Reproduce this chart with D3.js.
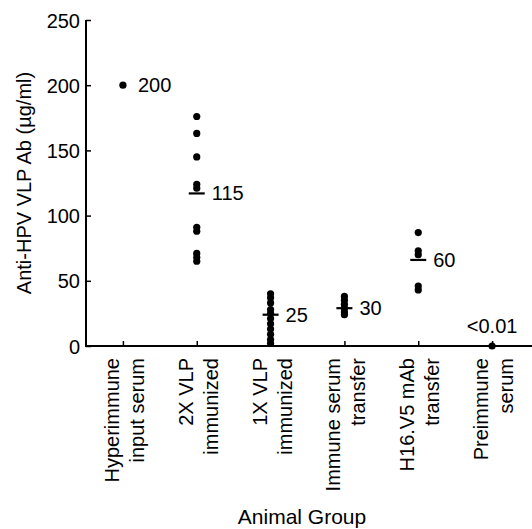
<!DOCTYPE html>
<html>
<head>
<meta charset="utf-8">
<script src="https://cdn.jsdelivr.net/npm/d3@7"></script>
<style>
body { margin: 0; background: #fff; }
text { font-family: "Liberation Sans", Arial, sans-serif; fill: #000; }
</style>
</head>
<body>
<div id="chart"></div>
<script>
// groups along the x axis (two lines each)
var groups = ["Hyperimmune|input serum", "2X VLP|immunized", "1X VLP|immunized",
  "Immune serum|transfer", "H16.V5 mAb|transfer", "Preimmune|serum"];
// individual animal values, ug/ml
var hyperimmune = [200];
var vlp2x = [176, 163, 145, 124, 121, 91, 88, 71, 68, 65];
var vlp1x = [40, 37, 33, 28, 25, 21, 17, 13, 9, 5, 2];
var immuneTransfer = [38, 35, 32, 29, 26, 24];
var mabTransfer = [87, 73, 70, 46, 43];
var preimmune = [0];
// group markers (bar) and printed labels
var medians = [null, 117, 24, 29, 66, null];
var groupLabels = ["200", "115", "25", "30", "60", "<0.01"];
var yTicks = [0, 50, 100, 150, 200, 250];

var series = [hyperimmune, vlp2x, vlp1x, immuneTransfer, mabTransfer, preimmune];
var W = 532, H = 529;
var svg = d3.select("#chart").append("svg").attr("width", W).attr("height", H);

var x = d3.scalePoint().domain(groups).range([86, 529]).padding(0.5);
var y = d3.scaleLinear().domain([0, 250]).range([346, 20]);

// y axis
var ya = svg.append("g").attr("transform", "translate(86,0)")
  .call(d3.axisLeft(y).tickValues(yTicks).tickSize(-5).tickSizeOuter(0).tickPadding(6));
ya.select(".domain").attr("stroke-width", 2).attr("d", "M0," + y(250) + "V" + y(0));
ya.selectAll(".tick line").attr("stroke-width", 1.5);
ya.selectAll(".tick text").style("font-size", "20px").attr("dy", "0.35em");

// x axis
var xa = svg.append("g").attr("transform", "translate(0," + y(0) + ")")
  .call(d3.axisBottom(x).tickSize(-5).tickSizeOuter(0).tickFormat(""));
xa.select(".domain").attr("stroke-width", 2).attr("d", "M85,0H532");
xa.selectAll(".tick line").attr("stroke-width", 1.5);

// category labels, rotated
var lab = svg.selectAll(".glab").data(groups).enter().append("text")
  .attr("class", "glab")
  .attr("text-anchor", "end")
  .style("font-size", "20px")
  .attr("transform", function(d) { return "translate(" + x(d) + ",358) rotate(-90)"; });
lab.each(function(d) {
  var parts = d.split("|");
  var t = d3.select(this);
  t.append("tspan").attr("x", 0).attr("y", -4).text(parts[0]);
  t.append("tspan").attr("x", 0).attr("y", 21).text(parts[1]);
});

// dots
series.forEach(function(vals, i) {
  svg.selectAll(".dot" + i).data(vals).enter().append("circle")
    .attr("cx", x(groups[i]))
    .attr("cy", function(d) { return y(d); })
    .attr("r", 3.6)
    .attr("fill", "#000");
});

// median bars
medians.forEach(function(m, i) {
  if (m == null) return;
  svg.append("line")
    .attr("x1", x(groups[i]) - 8).attr("x2", x(groups[i]) + 8)
    .attr("y1", y(m)).attr("y2", y(m))
    .attr("stroke", "#000").attr("stroke-width", 2.2);
});

// value labels
var labY = [200, 117, 24, 29, 66, null];
svg.selectAll(".vlab").data(groupLabels).enter().append("text")
  .style("font-size", "20px")
  .attr("text-anchor", function(d, i) { return i == 5 ? "middle" : "start"; })
  .attr("x", function(d, i) { return i == 5 ? x(groups[i]) : x(groups[i]) + 15; })
  .attr("y", function(d, i) { return i == 5 ? y(0) - 13 : y(labY[i]); })
  .attr("dy", function(d, i) { return i == 5 ? 0 : "0.35em"; })
  .text(function(d) { return d; });

// axis titles
svg.append("text").attr("text-anchor", "middle").style("font-size", "20px")
  .attr("transform", "translate(31," + y(125) + ") rotate(-90)")
  .text("Anti-HPV VLP Ab (\u00b5g/ml)");
svg.append("text").attr("text-anchor", "middle").style("font-size", "21px")
  .attr("x", 302).attr("y", 524)
  .text("Animal Group");
</script>
</body>
</html>
